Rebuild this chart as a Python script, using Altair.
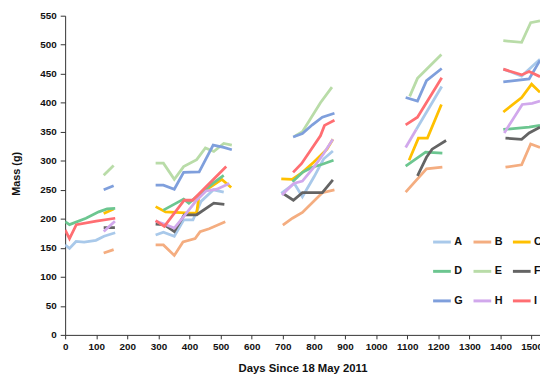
import altair as alt
import pandas as pd

SERIES = ["A", "B", "C", "D", "E", "F", "G", "H", "I"]
COLORS = ["#a9c9ea", "#f4ad80", "#ffc000", "#6cc690", "#b9dca8",
          "#646464", "#7f9fdc", "#d1a8ec", "#ff6e72"]

# each series: list of separate measurement runs, (day, mass g)
A = [[(0, 155), (14, 149), (35, 161), (61, 160), (99, 163), (125, 170), (161, 176)],
     [(291, 172), (316, 177), (351, 170), (381, 198), (411, 198), (437, 230), (477, 250), (510, 246)],
     [(695, 244), (737, 261), (763, 238), (800, 272), (831, 303), (861, 317)],
     [(1129, 354), (1211, 428)],
     [(1409, 458), (1468, 446), (1527, 475)]]
B = [[(124, 141), (156, 147)],
     [(291, 155), (316, 155), (351, 137), (379, 160), (418, 166), (434, 178), (463, 183), (515, 195)],
     [(700, 189), (731, 201), (763, 211), (827, 245), (866, 250)],
     [(1095, 246), (1162, 286), (1213, 289)],
     [(1416, 289), (1468, 293), (1497, 329), (1527, 323)]]
C = [[(124, 209), (156, 217)],
     [(291, 221), (323, 212), (355, 211), (403, 210), (423, 210), (430, 238), (462, 253), (504, 268), (534, 254)],
     [(695, 269), (730, 268), (763, 280), (800, 298), (842, 320), (861, 337)],
     [(1106, 301), (1136, 339), (1165, 339), (1210, 397)],
     [(1409, 384), (1468, 409), (1500, 432), (1527, 418)]]
D = [[(0, 195), (14, 190), (67, 201), (108, 212), (135, 217), (161, 218)],
     [(316, 215), (381, 234), (398, 227), (438, 245), (477, 262), (510, 275)],
     [(731, 264), (763, 280), (795, 289), (827, 294), (863, 301)],
     [(1095, 291), (1159, 315), (1213, 313)],
     [(1409, 354), (1492, 358), (1527, 361)]]
E = [[(124, 275), (156, 292)],
     [(291, 296), (316, 296), (351, 268), (381, 290), (423, 302), (451, 322), (478, 316), (510, 330), (536, 327)],
     [(737, 342), (763, 350), (821, 400), (858, 427)],
     [(1108, 411), (1133, 442), (1159, 456), (1210, 483)],
     [(1409, 507), (1468, 504), (1497, 538), (1527, 541)]]
F = [[(124, 185), (160, 185)],
     [(291, 191), (318, 190), (351, 178), (383, 207), (423, 207), (478, 227), (512, 225)],
     [(700, 244), (734, 232), (763, 245), (827, 245), (861, 267)],
     [(1133, 274), (1162, 306), (1180, 320), (1225, 335)],
     [(1416, 339), (1468, 337), (1492, 348), (1527, 358)]]
G = [[(124, 250), (156, 257)],
     [(291, 258), (316, 258), (351, 251), (381, 280), (431, 281), (476, 327), (510, 323), (536, 319)],
     [(733, 341), (763, 347), (795, 362), (827, 375), (866, 382)],
     [(1095, 409), (1133, 403), (1162, 438), (1211, 459)],
     [(1409, 436), (1492, 441), (1527, 473)]]
H = [[(124, 178), (160, 196)],
     [(291, 196), (318, 191), (351, 184), (383, 205), (423, 232), (453, 248), (488, 251), (528, 261)],
     [(697, 241), (735, 261), (763, 265), (800, 289), (831, 312), (861, 337)],
     [(1095, 323), (1129, 354)],
     [(1412, 348), (1470, 397), (1502, 399), (1527, 403)]]
I = [[(0, 181), (14, 166), (36, 190), (100, 196), (161, 201)],
     [(291, 197), (319, 187), (383, 232), (410, 232), (518, 290)],
     [(733, 280), (760, 295), (821, 343), (834, 361), (866, 370)],
     [(1095, 362), (1133, 375), (1211, 443)],
     [(1409, 458), (1468, 448), (1492, 454), (1527, 445)]]

X_TICKS = list(range(0, 1501, 100))
Y_TICKS = list(range(0, 551, 50))

rows = []
for name, segs in zip(SERIES, [A, B, C, D, E, F, G, H, I]):
    for si, seg in enumerate(segs):
        for pi, (d, m) in enumerate(seg):
            rows.append({"series": name, "seg": f"{name}{si}", "day": d, "mass": m, "idx": pi})
df = pd.DataFrame(rows)

FONT = "Liberation Sans"
TXT = "#111111"

chart = alt.Chart(df).mark_line(strokeWidth=2.8, clip=True).encode(
    x=alt.X("day:Q",
            scale=alt.Scale(domain=[0, 1527], nice=False, zero=False),
            axis=alt.Axis(values=X_TICKS, format="d", title="Days Since 18 May 2011", grid=False,
                          tickSize=4, labelPadding=3, labelFont=FONT, labelFontSize=10,
                          labelFontWeight="bold", labelColor=TXT, labelFlush=False,
                          labelOverlap=False, domainColor="#333333", tickColor="#333333",
                          titleFont=FONT, titleFontSize=11.5, titleFontWeight="bold",
                          titleColor=TXT, titlePadding=11)),
    y=alt.Y("mass:Q",
            scale=alt.Scale(domain=[0, 550], nice=False),
            axis=alt.Axis(values=Y_TICKS, format="d", title="Mass (g)", grid=False,
                          tickSize=5, labelPadding=4, labelFont=FONT, labelFontSize=10,
                          labelFontWeight="bold", labelColor=TXT, labelOverlap=False,
                          domainColor="#333333", tickColor="#333333",
                          titleFont=FONT, titleFontSize=11, titleFontWeight="bold",
                          titleColor=TXT, titleX=-49, titleY=160, titleAngle=270,
                          titleBaseline="middle", titleAlign="center")),
    color=alt.Color("series:N",
                    scale=alt.Scale(domain=SERIES, range=COLORS),
                    legend=alt.Legend(title=None, orient="none", legendX=372, legendY=219,
                                      direction="horizontal",
                                      columns=3, symbolType="stroke", symbolSize=324,
                                      symbolStrokeWidth=3, labelFont=FONT, labelFontSize=11,
                                      labelFontWeight="bold", labelColor=TXT, labelOffset=2,
                                      columnPadding=4, rowPadding=13, padding=0)),
    detail="seg:N",
    order="idx:Q",
).properties(
    width=482, height=324,
    padding={"left": 58, "top": 5, "right": 0, "bottom": 45},
    autosize=alt.AutoSizeParams(type="none"),
).configure_view(strokeWidth=0)

chart.save("out.html", embed_options={"renderer": "svg", "actions": False})
